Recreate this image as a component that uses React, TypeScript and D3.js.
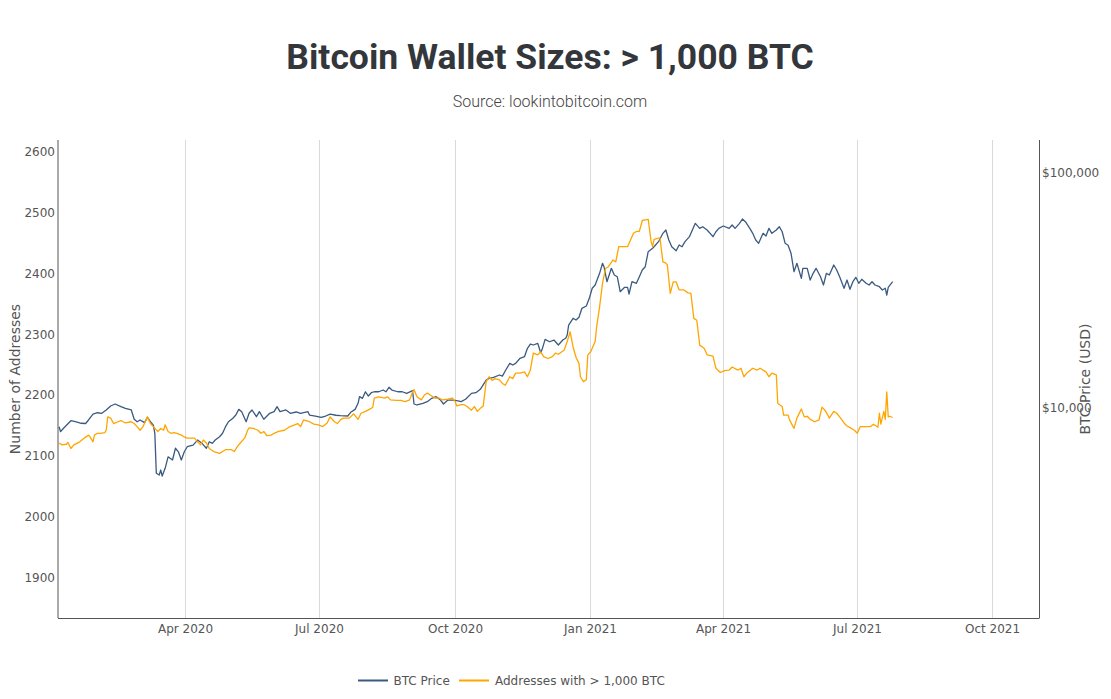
import React from 'react';
import * as d3 from 'd3';

const btcPrice: [string, number][] = [
["2020-01-06",8280],["2020-01-07",7890],["2020-01-09",8160],["2020-01-14",8790],["2020-01-17",8700],["2020-01-21",8570],["2020-01-24",8550],["2020-01-26",8850],["2020-01-29",9380],["2020-02-01",9500],["2020-02-04",9450],["2020-02-07",9760],["2020-02-10",10150],["2020-02-13",10350],["2020-02-17",10080],["2020-02-20",9920],["2020-02-24",9760],["2020-02-26",8910],["2020-02-28",8700],["2020-03-01",8850],["2020-03-04",8620],["2020-03-06",9080],["2020-03-08",8700],["2020-03-10",8420],["2020-03-11",7770],["2020-03-12",5250],["2020-03-14",5160],["2020-03-15",5420],["2020-03-16",5110],["2020-03-18",5510],["2020-03-20",6170],["2020-03-23",5980],["2020-03-25",6710],["2020-03-27",6480],["2020-03-29",5980],["2020-03-31",6480],["2020-04-02",6810],["2020-04-06",6920],["2020-04-09",7270],["2020-04-12",7040],["2020-04-15",6710],["2020-04-17",7150],["2020-04-19",7040],["2020-04-21",7270],["2020-04-24",7510],["2020-04-26",7770],["2020-04-28",8290],["2020-04-30",8700],["2020-05-03",9000],["2020-05-05",9290],["2020-05-07",9820],["2020-05-09",9600],["2020-05-12",8700],["2020-05-14",9450],["2020-05-16",9760],["2020-05-19",9140],["2020-05-21",9600],["2020-05-24",8910],["2020-05-28",9450],["2020-05-31",9600],["2020-06-02",10080],["2020-06-04",9600],["2020-06-08",9760],["2020-06-11",9450],["2020-06-15",9570],["2020-06-18",9450],["2020-06-23",9600],["2020-06-24",9290],["2020-06-28",9200],["2020-07-02",9080],["2020-07-05",9200],["2020-07-08",9380],["2020-07-12",9270],["2020-07-15",9230],["2020-07-20",9200],["2020-07-22",9540],["2020-07-25",9820],["2020-07-27",10420],["2020-07-28",11120],["2020-07-30",10940],["2020-08-01",11670],["2020-08-03",11190],["2020-08-05",11560],["2020-08-07",11670],["2020-08-10",11670],["2020-08-13",11870],["2020-08-15",11670],["2020-08-17",12190],["2020-08-19",11870],["2020-08-23",11670],["2020-08-26",11670],["2020-08-29",11490],["2020-09-02",11790],["2020-09-03",10350],["2020-09-05",10250],["2020-09-09",10420],["2020-09-12",10590],["2020-09-15",10940],["2020-09-18",11120],["2020-09-21",10760],["2020-09-23",10350],["2020-09-26",10760],["2020-09-29",10760],["2020-10-02",10690],["2020-10-05",10590],["2020-10-08",10840],["2020-10-12",11490],["2020-10-15",11560],["2020-10-18",11950],["2020-10-22",13090],["2020-10-24",13310],["2020-10-27",13440],["2020-10-31",13750],["2020-11-02",13600],["2020-11-04",14340],["2020-11-07",15420],["2020-11-09",15170],["2020-11-11",15420],["2020-11-14",16200],["2020-11-17",16450],["2020-11-19",17860],["2020-11-21",18630],["2020-11-23",18450],["2020-11-26",18760],["2020-11-28",17110],["2020-11-29",17680],["2020-12-01",19500],["2020-12-04",19050],["2020-12-07",19370],["2020-12-10",18450],["2020-12-13",19370],["2020-12-15",19700],["2020-12-16",20340],["2020-12-17",22440],["2020-12-20",23970],["2020-12-22",23570],["2020-12-24",24200],["2020-12-26",26430],["2020-12-29",27040],["2020-12-31",29150],["2021-01-02",32160],["2021-01-04",33210],["2021-01-07",37240],["2021-01-09",41080],["2021-01-10",39730],["2021-01-12",34300],["2021-01-15",39110],["2021-01-17",36630],["2021-01-19",36030],["2021-01-21",31110],["2021-01-24",32470],["2021-01-26",32470],["2021-01-27",30410],["2021-01-29",34300],["2021-02-01",33770],["2021-02-03",36030],["2021-02-05",38470],["2021-02-07",39730],["2021-02-09",46030],["2021-02-12",47580],["2021-02-14",49150],["2021-02-16",50770],["2021-02-19",55110],["2021-02-21",56920],["2021-02-23",51620],["2021-02-25",48340],["2021-02-28",46480],["2021-03-02",49150],["2021-03-04",48340],["2021-03-06",50770],["2021-03-09",53320],["2021-03-11",56920],["2021-03-13",60780],["2021-03-16",57880],["2021-03-18",58800],["2021-03-21",56920],["2021-03-25",53320],["2021-03-27",55980],["2021-03-29",57880],["2021-04-01",59200],["2021-04-05",57880],["2021-04-07",59780],["2021-04-09",57880],["2021-04-12",60780],["2021-04-14",63400],["2021-04-16",61740],["2021-04-19",57880],["2021-04-21",55110],["2021-04-23",51620],["2021-04-25",49960],["2021-04-28",55110],["2021-04-30",53690],["2021-05-02",57880],["2021-05-04",55110],["2021-05-07",56920],["2021-05-09",58800],["2021-05-11",55980],["2021-05-13",49960],["2021-05-15",49000],["2021-05-17",45320],["2021-05-19",37840],["2021-05-21",41080],["2021-05-24",35460],["2021-05-25",39110],["2021-05-28",39110],["2021-05-30",34880],["2021-06-01",37240],["2021-06-03",39110],["2021-06-06",36030],["2021-06-08",33210],["2021-06-10",37240],["2021-06-12",36630],["2021-06-15",40410],["2021-06-17",38470],["2021-06-19",36030],["2021-06-22",32160],["2021-06-24",34880],["2021-06-26",31840],["2021-06-28",34300],["2021-06-30",35810],["2021-07-02",33770],["2021-07-04",35120],["2021-07-07",33770],["2021-07-09",33210],["2021-07-11",34300],["2021-07-13",33210],["2021-07-16",32660],["2021-07-18",31620],["2021-07-20",32160],["2021-07-21",30110],["2021-07-22",32470],["2021-07-25",34300]
];

const addresses: [string, number][] = [
["2020-01-06",2121],["2020-01-08",2118],["2020-01-11",2119],["2020-01-12",2122],["2020-01-14",2112],["2020-01-16",2118],["2020-01-20",2123],["2020-01-23",2129],["2020-01-26",2134],["2020-01-27",2131],["2020-01-29",2123],["2020-01-30",2134],["2020-02-01",2137],["2020-02-03",2137],["2020-02-06",2138],["2020-02-07",2142],["2020-02-08",2164],["2020-02-10",2162],["2020-02-12",2153],["2020-02-15",2156],["2020-02-17",2158],["2020-02-20",2154],["2020-02-24",2156],["2020-02-26",2153],["2020-02-28",2148],["2020-03-01",2142],["2020-03-03",2148],["2020-03-05",2159],["2020-03-06",2164],["2020-03-08",2153],["2020-03-10",2148],["2020-03-13",2140],["2020-03-15",2145],["2020-03-17",2142],["2020-03-18",2151],["2020-03-20",2140],["2020-03-22",2137],["2020-03-24",2138],["2020-03-26",2137],["2020-03-29",2134],["2020-03-31",2131],["2020-04-02",2129],["2020-04-04",2129],["2020-04-07",2129],["2020-04-09",2123],["2020-04-11",2118],["2020-04-13",2126],["2020-04-15",2121],["2020-04-17",2112],["2020-04-20",2107],["2020-04-24",2104],["2020-04-26",2107],["2020-04-28",2110],["2020-05-02",2110],["2020-05-04",2107],["2020-05-06",2115],["2020-05-08",2121],["2020-05-11",2129],["2020-05-13",2142],["2020-05-14",2146],["2020-05-17",2145],["2020-05-20",2142],["2020-05-22",2137],["2020-05-24",2140],["2020-05-26",2133],["2020-05-29",2134],["2020-05-31",2137],["2020-06-03",2140],["2020-06-07",2142],["2020-06-10",2147],["2020-06-14",2151],["2020-06-16",2153],["2020-06-18",2148],["2020-06-20",2159],["2020-06-24",2156],["2020-06-27",2152],["2020-06-30",2151],["2020-07-03",2148],["2020-07-06",2154],["2020-07-08",2164],["2020-07-11",2156],["2020-07-13",2153],["2020-07-15",2159],["2020-07-17",2162],["2020-07-21",2162],["2020-07-24",2169],["2020-07-27",2160],["2020-07-29",2170],["2020-08-01",2173],["2020-08-05",2178],["2020-08-06",2180],["2020-08-07",2195],["2020-08-10",2197],["2020-08-14",2195],["2020-08-16",2197],["2020-08-18",2192],["2020-08-22",2191],["2020-08-25",2191],["2020-08-28",2189],["2020-08-31",2192],["2020-09-02",2205],["2020-09-03",2209],["2020-09-05",2197],["2020-09-08",2192],["2020-09-10",2200],["2020-09-12",2203],["2020-09-14",2200],["2020-09-17",2195],["2020-09-20",2195],["2020-09-22",2192],["2020-09-26",2193],["2020-09-29",2195],["2020-10-01",2189],["2020-10-02",2182],["2020-10-05",2184],["2020-10-07",2184],["2020-10-09",2181],["2020-10-12",2175],["2020-10-14",2181],["2020-10-16",2173],["2020-10-18",2178],["2020-10-20",2182],["2020-10-22",2222],["2020-10-24",2230],["2020-10-26",2224],["2020-10-28",2227],["2020-10-31",2225],["2020-11-02",2219],["2020-11-04",2216],["2020-11-07",2230],["2020-11-09",2227],["2020-11-11",2236],["2020-11-14",2236],["2020-11-17",2238],["2020-11-19",2230],["2020-11-21",2241],["2020-11-23",2269],["2020-11-26",2266],["2020-11-28",2271],["2020-11-30",2263],["2020-12-03",2260],["2020-12-06",2263],["2020-12-08",2269],["2020-12-10",2267],["2020-12-14",2274],["2020-12-16",2288],["2020-12-18",2304],["2020-12-20",2279],["2020-12-22",2262],["2020-12-24",2252],["2020-12-25",2230],["2020-12-27",2222],["2020-12-29",2225],["2020-12-30",2266],["2021-01-01",2271],["2021-01-02",2277],["2021-01-04",2288],["2021-01-05",2312],["2021-01-07",2345],["2021-01-09",2384],["2021-01-11",2408],["2021-01-13",2411],["2021-01-16",2422],["2021-01-18",2419],["2021-01-20",2444],["2021-01-24",2444],["2021-01-26",2444],["2021-01-28",2455],["2021-01-30",2466],["2021-02-01",2469],["2021-02-03",2469],["2021-02-05",2487],["2021-02-07",2488],["2021-02-09",2489],["2021-02-11",2452],["2021-02-12",2444],["2021-02-13",2456],["2021-02-16",2458],["2021-02-17",2458],["2021-02-19",2419],["2021-02-21",2417],["2021-02-22",2414],["2021-02-24",2367],["2021-02-26",2386],["2021-02-28",2386],["2021-03-02",2373],["2021-03-05",2373],["2021-03-08",2368],["2021-03-10",2367],["2021-03-12",2326],["2021-03-14",2323],["2021-03-16",2282],["2021-03-19",2277],["2021-03-21",2266],["2021-03-25",2264],["2021-03-27",2244],["2021-03-30",2237],["2021-04-02",2240],["2021-04-05",2241],["2021-04-07",2246],["2021-04-11",2241],["2021-04-13",2244],["2021-04-15",2230],["2021-04-17",2236],["2021-04-21",2244],["2021-04-24",2241],["2021-04-26",2244],["2021-04-30",2238],["2021-05-02",2230],["2021-05-04",2236],["2021-05-07",2233],["2021-05-08",2186],["2021-05-11",2181],["2021-05-12",2167],["2021-05-15",2167],["2021-05-16",2159],["2021-05-19",2145],["2021-05-21",2162],["2021-05-24",2177],["2021-05-26",2164],["2021-05-28",2165],["2021-05-30",2160],["2021-06-02",2156],["2021-06-05",2159],["2021-06-07",2180],["2021-06-09",2175],["2021-06-11",2167],["2021-06-12",2162],["2021-06-15",2173],["2021-06-17",2170],["2021-06-19",2164],["2021-06-22",2154],["2021-06-24",2149],["2021-06-27",2145],["2021-06-29",2142],["2021-07-01",2137],["2021-07-03",2148],["2021-07-07",2148],["2021-07-10",2148],["2021-07-12",2152],["2021-07-15",2147],["2021-07-16",2170],["2021-07-17",2152],["2021-07-19",2173],["2021-07-20",2160],["2021-07-21",2205],["2021-07-22",2164],["2021-07-23",2165],["2021-07-25",2163]
];

const xTickDates = ["2020-04-01", "2020-07-01", "2020-10-01", "2021-01-01", "2021-04-01", "2021-07-01", "2021-10-01"];
const leftTicks = [1900, 2000, 2100, 2200, 2300, 2400, 2500, 2600];
const rightTicks = [10000, 100000];
const xDomain = ["2020-01-05T18:00:00Z", "2021-11-02T05:00:00Z"];
const leftDomain = [1833.2, 2619.4];
const rightDomain = [1271.6, 137500];

const BLUE = "#3b5a80";
const ORANGE = "#ffa500";
const FONT = "'DejaVu Sans', Verdana, sans-serif";

export default function App() {
  const W = 1111, H = 699;
  const L = 58, R = 1039.5, T = 140, B = 618;
  const x = d3.scaleUtc().domain(xDomain.map(d => new Date(d))).range([L, R]);
  const yL = d3.scaleLinear().domain(leftDomain).range([B, T]);
  const yR = d3.scaleLog().domain(rightDomain).range([B, T]);
  const fmtX = d3.utcFormat("%b %Y");
  const fmtR = (v: number) => "$" + d3.format(",")(v);

  const btcLine = d3.line<[string, number]>()
    .x(d => x(new Date(d[0] + "T12:00:00Z")))
    .y(d => yR(d[1]));
  const addrLine = d3.line<[string, number]>()
    .x(d => x(new Date(d[0] + "T12:00:00Z")))
    .y(d => yL(d[1]));

  return (
    <div style={{ position: "absolute", left: 0, top: 0 }}>
      <svg width={W} height={H} style={{ display: "block", background: "#fff" }}>
        <text x={550} y={69} textAnchor="middle" fontFamily="Roboto" fontWeight={700} fontSize={35.5} fill="#33363b">
          Bitcoin Wallet Sizes: &gt; 1,000 BTC
        </text>
        <text x={550} y={107} textAnchor="middle" fontFamily="Roboto" fontWeight={300} fontSize={16} fill="#444">
          Source: lookintobitcoin.com
        </text>

        {xTickDates.map(d => {
          const xx = Math.round(x(new Date(d + "T00:00:00Z"))) + 0.5;
          return (
            <g key={d}>
              <line x1={xx} x2={xx} y1={T} y2={B} stroke="#d9d9d9" strokeWidth={1} />
              <text x={xx} y={633} textAnchor="middle" fontFamily={FONT} fontSize={12} fill="#555">
                {fmtX(new Date(d + "T00:00:00Z"))}
              </text>
            </g>
          );
        })}

        <path d={btcLine(btcPrice) || ""} fill="none" stroke={BLUE} strokeWidth={1.3} strokeLinejoin="round" />
        <path d={addrLine(addresses) || ""} fill="none" stroke={ORANGE} strokeWidth={1.3} strokeLinejoin="round" />

        <line x1={L} x2={L} y1={T} y2={B} stroke="#555" strokeWidth={1} />
        <line x1={R} x2={R} y1={T} y2={B} stroke="#555" strokeWidth={1} />
        <line x1={L} x2={R} y1={B + 0.5} y2={B + 0.5} stroke="#555" strokeWidth={1} />

        {leftTicks.map(v => (
          <text key={v} x={55} y={yL(v)} dy="0.36em" textAnchor="end" fontFamily={FONT} fontSize={12} fill="#555">
            {v}
          </text>
        ))}
        {rightTicks.map(v => (
          <text key={v} x={1042} y={yR(v)} dy="0.36em" textAnchor="start" fontFamily={FONT} fontSize={12} fill="#555">
            {fmtR(v)}
          </text>
        ))}

        <text transform={`translate(20,${(T + B) / 2}) rotate(-90)`} textAnchor="middle" fontFamily={FONT} fontSize={14} fill="#555">
          Number of Addresses
        </text>
        <text transform={`translate(1090,${(T + B) / 2}) rotate(-90)`} textAnchor="middle" fontFamily={FONT} fontSize={14} fill="#555">
          BTC Price (USD)
        </text>

        <g>
          <line x1={358} x2={388} y1={680.5} y2={680.5} stroke={BLUE} strokeWidth={2} />
          <text x={393.5} y={680.5} dy="0.36em" fontFamily={FONT} fontSize={12} fill="#555">BTC Price</text>
          <line x1={459} x2={489} y1={680.5} y2={680.5} stroke={ORANGE} strokeWidth={2} />
          <text x={495} y={680.5} dy="0.36em" fontFamily={FONT} fontSize={12} fill="#555">Addresses with &gt; 1,000 BTC</text>
        </g>
      </svg>
    </div>
  );
}
